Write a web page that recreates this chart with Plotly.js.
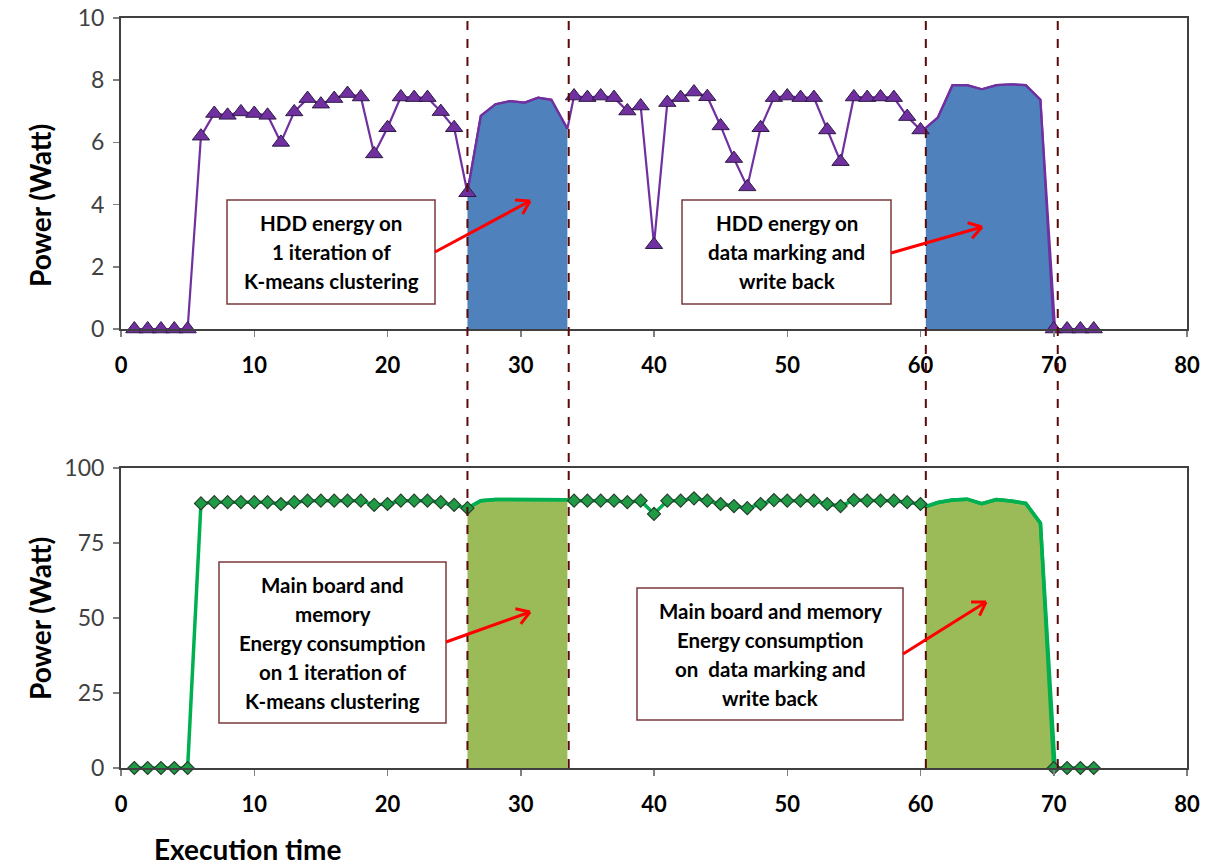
<!DOCTYPE html>
<html>
<head>
<meta charset="utf-8">
<script src="https://cdn.plot.ly/plotly-3.0.1.min.js"></script>
<style>html,body{margin:0;padding:0;background:#fff;}#chart{width:1221px;height:865px;}</style>
</head>
<body>
<div id="chart"></div>
<script>
// ---------------- DATA ----------------
const markedTime = [1,2,3,4,5,6,7,8,9,10,11,12,13,14,15,16,17,18,19,20,21,22,23,24,25,26,
  34,35,36,37,38,39,40,41,42,43,44,45,46,47,48,49,50,51,52,53,54,55,56,57,58,59,60,
  70,71,72,73];
const hddPower = [0,0,0,0,0,6.2,6.93,6.87,6.98,6.93,6.87,6.0,6.98,7.41,7.23,7.41,7.57,7.46,5.63,6.47,7.46,7.44,7.44,6.99,6.47,4.38,
  7.49,7.44,7.49,7.44,7.01,7.17,2.71,7.28,7.44,7.62,7.47,6.53,5.48,4.57,6.47,7.44,7.49,7.44,7.44,6.40,5.38,7.46,7.44,7.46,7.44,6.83,6.40,
  0,0,0,0];
const boardPower = [0,0,0,0,0,88.2,88.6,88.6,88.6,88.6,88.6,88.0,88.6,89.1,89.1,89.1,89.1,89.1,87.7,88.0,89.1,89.1,89.1,88.6,87.7,86.6,
  89.1,89.1,89.1,89.1,88.6,89.1,84.7,89.1,89.1,89.9,89.1,88.0,87.3,86.6,88.0,89.3,89.1,89.1,89.1,88.0,87.3,89.3,89.1,89.1,89.1,88.6,88.0,
  0,0,0,0];
// shaded phase: 1 iteration of K-means clustering
const iterTime = [26,27,28.1,29.2,30.3,31.3,32.3,33.5];
const hddIter = [4.4,6.85,7.23,7.33,7.28,7.44,7.37,6.44];
const boardIter = [86.6,89.1,89.5,89.5,89.5,89.6,89.6,89.4];
// shaded phase: data marking and write back
const writeTime = [60.4,61.3,62.4,63.5,64.6,65.7,66.8,67.9,69,70.1];
const hddWrite = [6.47,6.8,7.84,7.84,7.71,7.84,7.87,7.84,7.37,0];
const boardWrite = [87.1,88.5,89.3,89.6,88.1,89.5,89.0,88.2,81.6,0];
// phase boundaries (dashed lines)
const phaseBounds = [26,33.6,60.4,70.3];
// labels
const yTitle = 'Power (Watt)';
const xTitle = 'Execution time';
const topTicks = [0,2,4,6,8,10];
const bottomTicks = [0,25,50,75,100];
const xTicks = [0,10,20,30,40,50,60,70,80];
const notes = [
  ['HDD energy on','1 iteration of','K-means clustering'],
  ['HDD energy on','data marking and','write back'],
  ['Main board and','memory','Energy consumption','on 1 iteration of','K-means clustering'],
  ['Main board and memory','Energy consumption','on  data marking and','write back']
];

// ---------------- LAYOUT HELPERS ----------------
const W=1221,H=865,L=121,R=34,T=18,B=97;
const px=x=>(x-L)/(W-L-R);
const py=y=>(H-B-y)/(H-T-B);
const FONT='Lato, "Open Sans", sans-serif';

function mergeSeries(xs1,ys1,xs2,ys2,xs3,ys3){
  const pts=[];
  [[xs1,ys1],[xs2,ys2],[xs3,ys3]].forEach(([xs,ys])=>xs.forEach((x,i)=>pts.push([x,ys[i]])));
  pts.sort((a,b)=>a[0]-b[0]);
  return {x:pts.map(p=>p[0]),y:pts.map(p=>p[1])};
}
const hddLine = mergeSeries(markedTime,hddPower,iterTime,hddIter,writeTime,hddWrite);
const boardLine = mergeSeries(markedTime,boardPower,iterTime,boardIter,writeTime,boardWrite);

const purple='#7030A0', blueFill='#4F81BD', green='#00B050', greenFill='#9BBB59';

const traces=[
  {x:iterTime,y:hddIter,xaxis:'x',yaxis:'y',mode:'lines',fill:'tozeroy',fillcolor:blueFill,line:{color:purple,width:2.2},hoverinfo:'skip'},
  {x:writeTime,y:hddWrite,xaxis:'x',yaxis:'y',mode:'lines',fill:'tozeroy',fillcolor:blueFill,line:{color:purple,width:2.2},hoverinfo:'skip'},
  {x:hddLine.x,y:hddLine.y,xaxis:'x',yaxis:'y',mode:'lines',line:{color:purple,width:2.2},cliponaxis:false},
  {x:markedTime,y:hddPower,xaxis:'x',yaxis:'y',mode:'markers',cliponaxis:false,
   marker:{symbol:'triangle-up',size:15,color:purple,line:{color:'#2e1a45',width:1}}},
  {x:iterTime,y:boardIter,xaxis:'x2',yaxis:'y2',mode:'lines',fill:'tozeroy',fillcolor:greenFill,line:{color:green,width:3.5},hoverinfo:'skip'},
  {x:writeTime,y:boardWrite,xaxis:'x2',yaxis:'y2',mode:'lines',fill:'tozeroy',fillcolor:greenFill,line:{color:green,width:3.5},hoverinfo:'skip'},
  {x:boardLine.x,y:boardLine.y,xaxis:'x2',yaxis:'y2',mode:'lines',line:{color:green,width:3.5},cliponaxis:false},
  {x:markedTime,y:boardPower,xaxis:'x2',yaxis:'y2',mode:'markers',cliponaxis:false,
   marker:{symbol:'diamond',size:10,color:'#1f9a45',line:{color:'#24402c',width:1.2}}}
];

const shapes=[];
phaseBounds.forEach(b=>shapes.push({type:'line',xref:'x',yref:'paper',x0:b,x1:b,y0:0,y1:1,
  line:{color:'#5a0a0a',width:2,dash:'dash'},layer:'above'}));

const boxes=[[227,200,435,304],[682,200,891,304],[219,562,446,723],[637,588,903,720]];
const annotations=[];
boxes.forEach((bx,i)=>{
  shapes.push({type:'rect',xref:'paper',yref:'paper',x0:px(bx[0]),x1:px(bx[2]),y0:py(bx[3]),y1:py(bx[1]),
    line:{color:'#7b3a3a',width:1.5},fillcolor:'#ffffff',layer:'above'});
  const cx=(bx[0]+bx[2])/2, cy=(bx[1]+bx[3])/2, lines=notes[i], sp=29;
  lines.forEach((t,k)=>{
    const yy=cy+(k-(lines.length-1)/2)*sp;
    annotations.push({xref:'paper',yref:'paper',x:px(cx),y:py(yy),text:'<b>'+t+'</b>',showarrow:false,
      xanchor:'center',yanchor:'middle',font:{family:FONT,size:20.5,color:'#000'}});
  });
});
const arrows=[[435,252,530,201],[891,253,982,227],[446,642,530,612],[903,654,986,602]];
arrows.forEach(a=>{
  const [x0,y0,x1,y1]=a;
  shapes.push({type:'line',xref:'paper',yref:'paper',x0:px(x0),y0:py(y0),x1:px(x1),y1:py(y1),line:{color:'#ff0000',width:3},layer:'above'});
  const ang=Math.atan2(y1-y0,x1-x0), len=15;
  [Math.PI*0.82,-Math.PI*0.82].forEach(d=>{
    const hx=x1+len*Math.cos(ang+d), hy=y1+len*Math.sin(ang+d);
    shapes.push({type:'line',xref:'paper',yref:'paper',x0:px(x1),y0:py(y1),x1:px(hx),y1:py(hy),line:{color:'#ff0000',width:3},layer:'above'});
  });
});
// axis titles
annotations.push({xref:'paper',yref:'paper',x:px(152),y:py(849),xanchor:'left',yanchor:'middle',showarrow:false,
  text:'<b>'+xTitle+'</b>',font:{family:FONT,size:28,color:'#000'}});
[[40,206],[40,619]].forEach(p=>annotations.push({xref:'paper',yref:'paper',x:px(p[0]),y:py(p[1]),xanchor:'center',yanchor:'middle',
  showarrow:false,textangle:-90,text:'<b>'+yTitle+'</b>',font:{family:FONT,size:28,color:'#000'}}));

const xCommon={range:[0,80],tickvals:xTicks,ticktext:xTicks.map(String),showgrid:false,zeroline:false,
  showline:true,linecolor:'#404040',linewidth:2,mirror:true,ticks:'outside',ticklen:6,tickcolor:'#808080',tickwidth:1.5,
  tickfont:{family:FONT,size:22,color:'#000',weight:'bold'},ticklabelstandoff:10};
const yCommon={showgrid:false,zeroline:false,showline:true,linecolor:'#404040',linewidth:2,mirror:true,
  ticks:'outside',ticklen:6,tickcolor:'#808080',tickwidth:1.5,tickfont:{family:FONT,size:23,color:'#404040'},ticklabelstandoff:4};

const layout={
  width:W,height:H,margin:{l:L,r:R,t:T,b:B},paper_bgcolor:'#fff',plot_bgcolor:'#fff',showlegend:false,
  xaxis:Object.assign({},xCommon,{anchor:'y',domain:[0,1]}),
  xaxis2:Object.assign({},xCommon,{anchor:'y2',domain:[0,1]}),
  yaxis:Object.assign({},yCommon,{domain:[py(329),1],range:[0,10],tickvals:topTicks,ticktext:topTicks.map(String)}),
  yaxis2:Object.assign({},yCommon,{domain:[0,py(468)],range:[0,100],tickvals:bottomTicks,ticktext:bottomTicks.map(String)}),
  shapes:shapes,annotations:annotations
};
Plotly.newPlot('chart',traces,layout,{displayModeBar:false,staticPlot:true});
</script>
</body>
</html>
